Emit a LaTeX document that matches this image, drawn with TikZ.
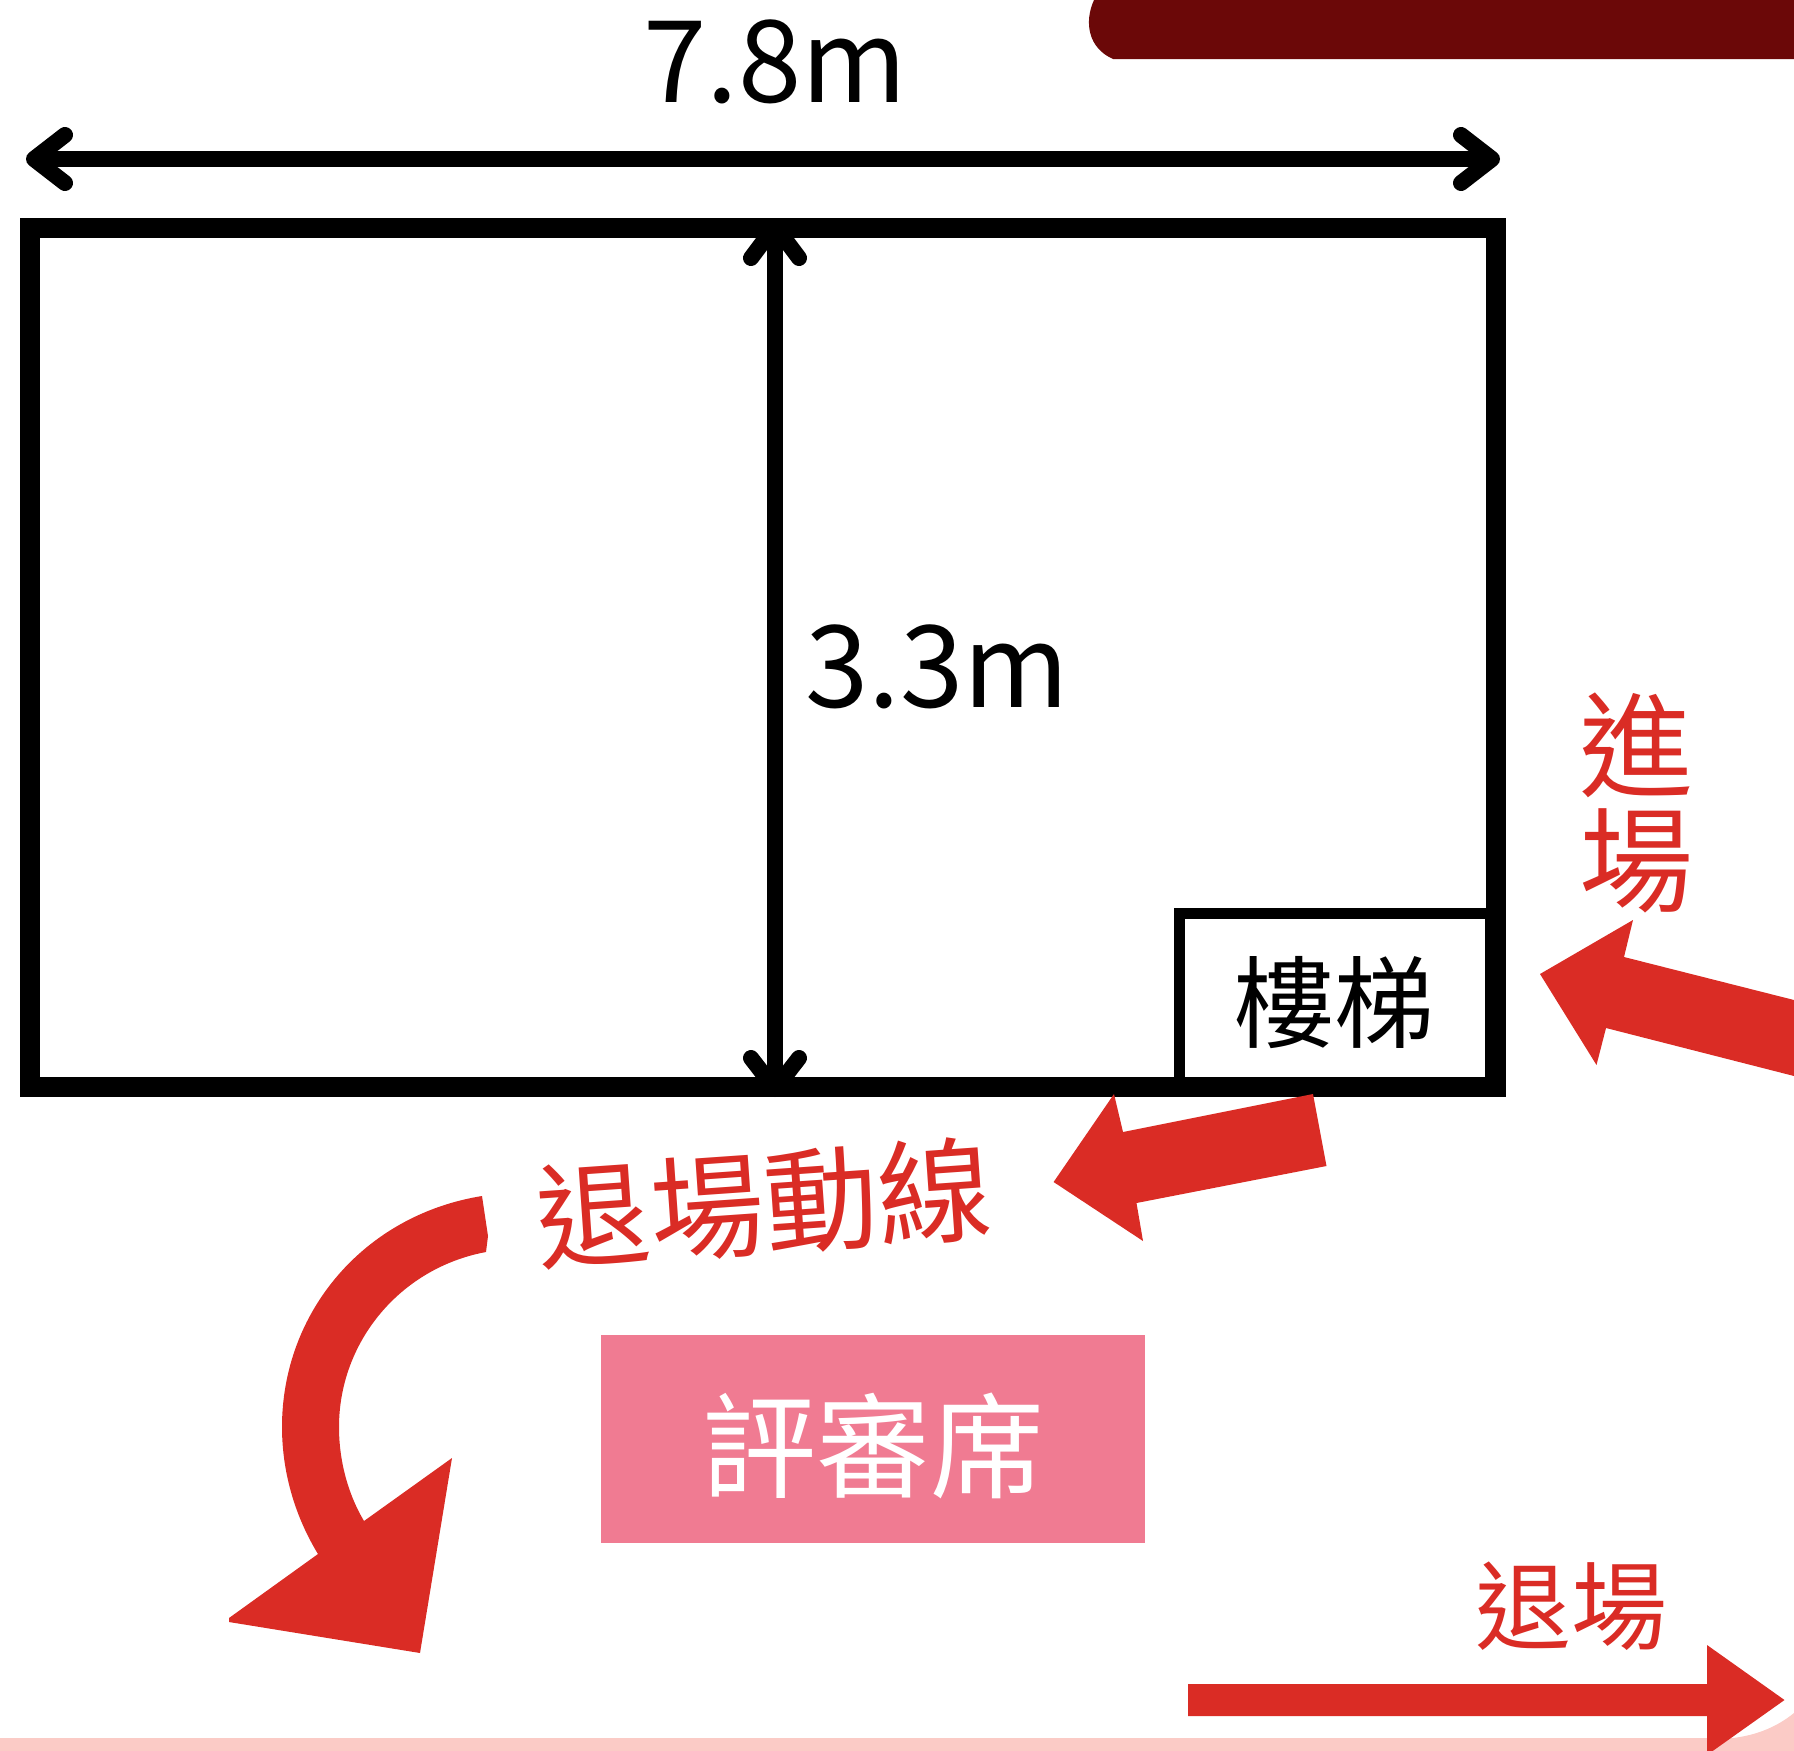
\documentclass[tikz,border=0pt]{standalone}
\usepackage{fontspec}
\setmainfont{Noto Sans CJK TC}
\definecolor{flow}{HTML}{DA2C25}
\definecolor{maroon}{HTML}{6B0808}
\definecolor{seat}{HTML}{F07B92}
\definecolor{blush}{HTML}{FBCBC6}
\newcommand{\fsz}[1]{\fontsize{#1}{#1}\selectfont}
\tikzset{
  wall/.style={draw=black,line width=20pt,miter limit=10},
  stairwall/.style={draw=black,line width=11pt},
  dimline/.style={draw=black,line width=16pt},
  dimhead/.style={draw=black,line width=16pt,line cap=round,line join=round},
  flowshape/.style={fill=flow,draw=none},
  label/.style={inner sep=0pt,outer sep=0pt,anchor=center,align=center},
  flowtext/.style={label,text=flow}
}
\begin{document}
\begin{tikzpicture}[x=1pt,y=-1pt]
\useasboundingbox (0,0) rectangle (1794,1751);
% decorative background pieces
\fill[maroon] (1094,0) .. controls (1084,22) and (1088,48) .. (1113,59) -- (1794,59) -- (1794,0) -- cycle;
\fill[blush] (0,1738) -- (1733,1738) .. controls (1758,1735) and (1778,1726) .. (1794,1713) -- (1794,1751) -- (0,1751) -- cycle;
% rooms
\draw[wall] (30,228) rectangle (1496,1087);
\draw[stairwall] (1179,1087) -- (1179,913) -- (1490,913) -- (1490,1087);
% dimension arrows
\coordinate (wl) at (34,159); \coordinate (wr) at (1492,159);
\coordinate (wl1) at (65,135); \coordinate (wl2) at (65,183);
\coordinate (wr1) at (1461,135); \coordinate (wr2) at (1461,183);
\draw[dimline] (wl) -- (wr);
\draw[dimhead] (wl1) -- (wl) -- (wl2);
\draw[dimhead] (wr1) -- (wr) -- (wr2);
\coordinate (ht) at (775,226); \coordinate (hb) at (775,1089);
\coordinate (ht1) at (751,258); \coordinate (ht2) at (799,258);
\coordinate (hb1) at (751,1058); \coordinate (hb2) at (799,1058);
\draw[dimline] (ht) -- (hb);
\draw[dimhead] (ht1) -- (ht) -- (ht2);
\draw[dimhead] (hb1) -- (hb) -- (hb2);
% red arrows
\fill[flowshape] (1313,1094) -- (1326.5,1166) -- (1136.5,1203) -- (1143,1241) -- (1053.6,1182) -- (1114,1094) -- (1123,1132) -- cycle;
\fill[flowshape] (1794,1000) -- (1624,957) -- (1633,920) -- (1540,974) -- (1596.5,1065) -- (1606,1028) -- (1794,1076) -- cycle;
\fill[flowshape] (1188,1684) -- (1707,1684) -- (1707,1645) -- (1784.5,1700) -- (1707,1755) -- (1707,1716) -- (1188,1716) -- cycle;
\fill[flowshape] (482,1196) -- (488,1236) -- (486,1252)
  .. controls (400,1268) and (339,1342) .. (339,1427)
  .. controls (339,1461) and (348,1494) .. (364,1521)
  -- (452,1458) -- (420,1653) -- (229,1622) -- (229,1618) -- (318,1554)
  .. controls (296,1518) and (282,1474) .. (282,1427)
  .. controls (282,1312) and (364,1215) .. (482,1196) -- cycle;
% seat box
\node[fill=seat,minimum width=544pt,minimum height=208pt,inner sep=0pt] (seatbox) at (873,1439) {};
% labels
\node[label] (lw) at (775,62) {\fsz{114}7.8m};
\node[label] (lh) at (937,667) {\fsz{114}3.3m};
\node[label] (stair) at (1334,1003) {\fsz{100}樓梯};
\node[label,text=white] (seattext) at (873,1446) {\fsz{114}評審席};
\node[flowtext] (enter1) at (1636,745) {\fsz{114}進};
\node[flowtext] (enter2) at (1636,861) {\fsz{114}場};
\node[flowtext,rotate=4] (exitroute) at (764,1203) {\fsz{114}退場動線};
\node[flowtext] (exit) at (1571,1606) {\fsz{96}退場};
\end{tikzpicture}
\end{document}
